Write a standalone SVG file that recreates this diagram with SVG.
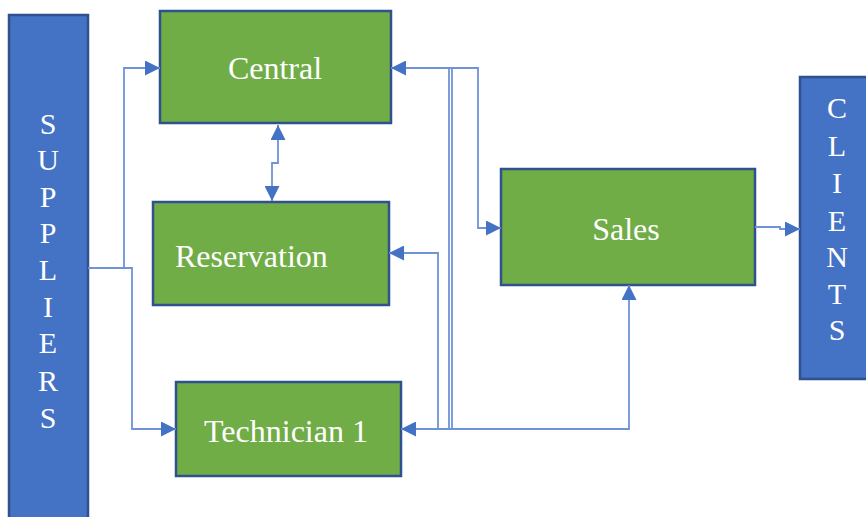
<svg xmlns="http://www.w3.org/2000/svg" width="866" height="517" viewBox="0 0 866 517">
<style>
.box{fill:#70AD47;stroke:#2F528F;stroke-width:2.5}
.side{fill:#4472C4;stroke:#2F528F;stroke-width:2.5}
.lbl{font-family:"Liberation Serif","Times New Roman",serif;font-size:32px;fill:#ffffff}
.ltr{font-family:"Liberation Serif","Times New Roman",serif;font-size:30px;fill:#ffffff;text-anchor:middle}
.con{fill:none;stroke:#6f93d6;stroke-width:1.8}
</style>
<defs>
<marker id="arr" markerUnits="userSpaceOnUse" markerWidth="15" markerHeight="15" viewBox="0 0 14 14" refX="14" refY="7" orient="auto-start-reverse">
<path d="M0,0 L14,7 L0,14 z" fill="#4472C4"/>
</marker>
</defs>
<rect width="866" height="517" fill="#ffffff"/>

<g id="suppliers">
<rect class="side" x="9" y="15" width="79" height="520"/>
<text class="ltr" x="48" y="134">S</text>
<text class="ltr" x="48" y="170">U</text>
<text class="ltr" x="48" y="207">P</text>
<text class="ltr" x="48" y="243">P</text>
<text class="ltr" x="48" y="280">L</text>
<text class="ltr" x="48" y="317">I</text>
<text class="ltr" x="48" y="353">E</text>
<text class="ltr" x="48" y="391">R</text>
<text class="ltr" x="48" y="428">S</text>
</g>

<g id="clients">
<rect class="side" x="800" y="77" width="80" height="302"/>
<text class="ltr" x="837" y="118">C</text>
<text class="ltr" x="837" y="156">L</text>
<text class="ltr" x="837" y="193">I</text>
<text class="ltr" x="837" y="231">E</text>
<text class="ltr" x="837" y="267">N</text>
<text class="ltr" x="837" y="304">T</text>
<text class="ltr" x="837" y="340">S</text>
</g>

<g id="central">
<rect class="box" x="160" y="11" width="231" height="112"/>
<text class="lbl" x="275" y="79" text-anchor="middle">Central</text>
</g>

<g id="reservation">
<rect class="box" x="153" y="202" width="236" height="103"/>
<text class="lbl" x="175" y="267">Reservation</text>
</g>

<g id="technician">
<rect class="box" x="176" y="382" width="225" height="94"/>
<text class="lbl" x="286" y="442" text-anchor="middle">Technician 1</text>
</g>

<g id="sales">
<rect class="box" x="501" y="169" width="254" height="116"/>
<text class="lbl" x="626" y="240" text-anchor="middle">Sales</text>
</g>

<g id="connectors">
<path class="con" d="M88,268 H124 V68 H160" marker-end="url(#arr)"/>
<path class="con" d="M124,268 H132 V429 H176" marker-end="url(#arr)"/>
<path class="con" d="M278,125 V163 H272 V201" marker-start="url(#arr)" marker-end="url(#arr)"/>
<path class="con" d="M391,68 H478 V228 H501" marker-start="url(#arr)" marker-end="url(#arr)"/>
<path class="con" d="M449,68 V429"/>
<path class="con" d="M452,68 V429"/>
<path class="con" d="M389,253 H438 V429" marker-start="url(#arr)"/>
<path class="con" d="M401,429 H629 V285" marker-start="url(#arr)" marker-end="url(#arr)"/>
<path class="con" d="M755,227 H780 V229 H800" marker-end="url(#arr)"/>
</g>
</svg>
